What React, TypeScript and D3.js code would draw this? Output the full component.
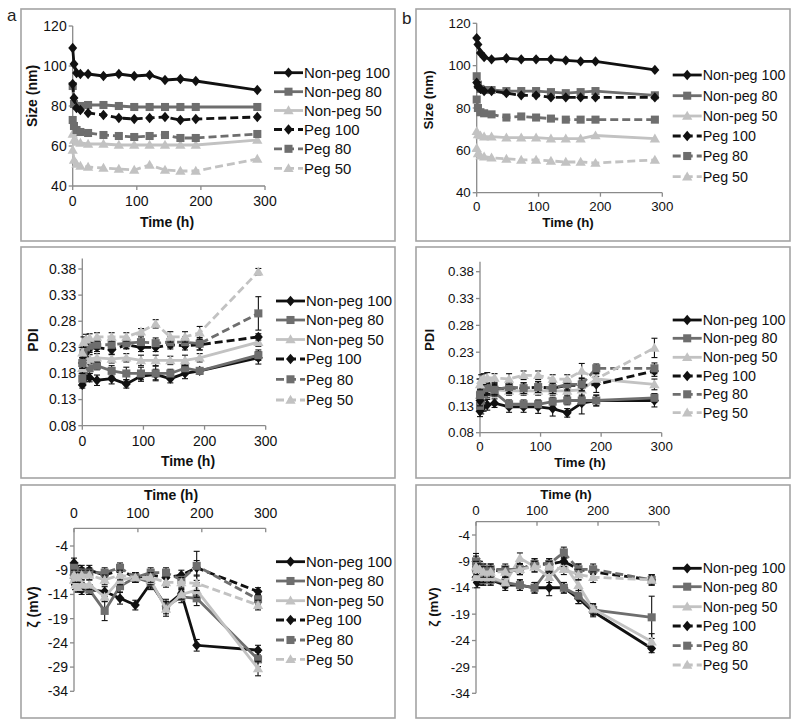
import React from "react";
import * as d3 from "d3";

const TIMES = [0, 2, 6, 12, 24, 48, 72, 96, 120, 144, 168, 192, 288];
const SERIES = ["Non-peg 100", "Non-peg 80", "Non-peg 50", "Peg 100", "Peg 80", "Peg 50"];
const X_TICKS = [0, 100, 200, 300];
const SIZE_TICKS = [40, 60, 80, 100, 120];
const PDI_TICKS = [0.08, 0.13, 0.18, 0.23, 0.28, 0.33, 0.38];
const ZETA_TICKS = [-4, -9, -14, -19, -24, -29, -34];

// Size (nm), panel a
const sizeA_NP100 = [109, 101, 96.5, 96, 96, 95, 96, 95, 95.5, 93, 93.5, 92.5, 88];
const sizeA_NP80 = [90, 81, 80, 80, 80.5, 80.5, 80, 79.5, 79.5, 79.5, 79.5, 79.5, 79.5];
const sizeA_NP50 = [66, 63, 62, 61.5, 61, 61, 60.5, 60.5, 60.5, 60.5, 60.5, 60.5, 63];
const sizeA_P100 = [91, 84, 79, 78, 76.5, 75.5, 74, 73.5, 74, 74.5, 73, 73.5, 74.5];
const sizeA_P80 = [73, 70, 68, 67, 66.5, 65.5, 65, 64.5, 65, 65.5, 64, 64, 66];
const sizeA_P50 = [58, 53, 51, 50, 49.5, 49, 48.5, 48, 50.5, 48, 47.5, 47.5, 53.5];

// Size (nm), panel b
const sizeB_NP100 = [113, 110, 106, 104, 103, 103.5, 103, 103, 103, 102.5, 102, 102, 98];
const sizeB_NP80 = [95, 91, 89, 88.5, 88.5, 88, 88, 88, 87.5, 87, 87.5, 88, 86];
const sizeB_NP50 = [69, 67.5, 67, 66.5, 66.5, 66, 66, 66, 65.5, 65.5, 65.5, 67, 65.5];
const sizeB_P100 = [92, 90, 89, 88, 88, 87, 86, 86, 85, 85, 85, 85, 85];
const sizeB_P80 = [84, 80, 78, 77.5, 77, 75.5, 76, 75.5, 75, 74.5, 74.5, 74.5, 74.5];
const sizeB_P50 = [61, 58.5, 57.5, 57, 56.5, 56, 55.5, 55.5, 55, 54.5, 54.5, 54, 55.5];

// PDI, panel a
const pdiA_NP100 = [0.158, 0.17, 0.175, 0.172, 0.167, 0.17, 0.16, 0.175, 0.178, 0.17, 0.18, 0.185, 0.21];
const pdiA_NP80 = [0.17, 0.185, 0.19, 0.19, 0.195, 0.185, 0.18, 0.18, 0.18, 0.18, 0.19, 0.185, 0.215];
const pdiA_NP50 = [0.19, 0.2, 0.205, 0.208, 0.21, 0.208, 0.21, 0.205, 0.205, 0.205, 0.205, 0.21, 0.24];
const pdiA_P100 = [0.2, 0.215, 0.22, 0.228, 0.23, 0.225, 0.235, 0.23, 0.23, 0.235, 0.233, 0.235, 0.25];
const pdiA_P80 = [0.2, 0.22, 0.23, 0.233, 0.235, 0.235, 0.238, 0.24, 0.238, 0.24, 0.24, 0.237, 0.295];
const pdiA_P50 = [0.22, 0.24, 0.245, 0.248, 0.25, 0.25, 0.25, 0.26, 0.275, 0.25, 0.25, 0.258, 0.375];
const pdiA_NP100_err = [0.006, 0.008, 0.01, 0.008, 0.01, 0.01, 0.008, 0.01, 0.01, 0.008, 0.01, 0.006, 0.012];
const pdiA_NP80_err = [0.01, 0.01, 0.01, 0.01, 0.008, 0.01, 0.012, 0.012, 0.014, 0.008, 0.008, 0.006, 0.01];
const pdiA_NP50_err = [0.01, 0.008, 0.008, 0.008, 0.008, 0.008, 0.008, 0.01, 0.01, 0.008, 0.01, 0.008, 0.008];
const pdiA_P100_err = [0.01, 0.01, 0.008, 0.008, 0.008, 0.008, 0.008, 0.008, 0.008, 0.008, 0.008, 0.01, 0.006];
const pdiA_P80_err = [0.01, 0.01, 0.01, 0.01, 0.008, 0.01, 0.01, 0.01, 0.01, 0.01, 0.01, 0.012, 0.032];
const pdiA_P50_err = [0.01, 0.01, 0.01, 0.008, 0.008, 0.008, 0.008, 0.006, 0.008, 0.01, 0.01, 0.012, 0.006];

// PDI, panel b
const pdiB_NP100 = [0.12, 0.125, 0.13, 0.132, 0.135, 0.128, 0.128, 0.128, 0.125, 0.117, 0.135, 0.14, 0.14];
const pdiB_NP80 = [0.13, 0.14, 0.15, 0.155, 0.155, 0.133, 0.133, 0.133, 0.138, 0.14, 0.14, 0.14, 0.145];
const pdiB_NP50 = [0.15, 0.165, 0.16, 0.16, 0.16, 0.158, 0.158, 0.158, 0.158, 0.158, 0.16, 0.18, 0.17];
const pdiB_P100 = [0.14, 0.155, 0.16, 0.162, 0.162, 0.163, 0.163, 0.165, 0.163, 0.168, 0.168, 0.17, 0.195];
const pdiB_P80 = [0.15, 0.16, 0.165, 0.163, 0.16, 0.165, 0.163, 0.165, 0.163, 0.17, 0.17, 0.2, 0.2];
const pdiB_P50 = [0.17, 0.178, 0.18, 0.182, 0.182, 0.18, 0.187, 0.187, 0.18, 0.18, 0.195, 0.18, 0.238];
const pdiB_NP100_err = [0.01, 0.01, 0.01, 0.01, 0.008, 0.01, 0.01, 0.012, 0.014, 0.008, 0.02, 0.01, 0.012];
const pdiB_NP80_err = [0.01, 0.01, 0.01, 0.01, 0.008, 0.008, 0.008, 0.008, 0.008, 0.008, 0.008, 0.01, 0.008];
const pdiB_NP50_err = [0.01, 0.01, 0.01, 0.01, 0.008, 0.008, 0.008, 0.008, 0.008, 0.008, 0.01, 0.01, 0.01];
const pdiB_P100_err = [0.01, 0.01, 0.01, 0.01, 0.01, 0.01, 0.01, 0.01, 0.01, 0.01, 0.01, 0.015, 0.01];
const pdiB_P80_err = [0.01, 0.01, 0.01, 0.01, 0.01, 0.01, 0.01, 0.01, 0.01, 0.01, 0.012, 0.008, 0.01];
const pdiB_P50_err = [0.01, 0.01, 0.01, 0.01, 0.008, 0.01, 0.008, 0.008, 0.008, 0.008, 0.014, 0.01, 0.018];

// Zeta potential (mV), panel a
const zetaA_NP100 = [-10, -12, -12.5, -13, -13, -13.4, -14.8, -16.2, -11.7, -16.4, -13.8, -24.5, -25.5];
const zetaA_NP80 = [-10, -11, -12, -12.5, -13, -17.4, -12.3, -10.5, -11.5, -16.5, -14.5, -14.8, -27.4];
const zetaA_NP50 = [-11, -12, -12.5, -12, -12, -14.5, -11, -10.5, -11, -17, -14, -13.1, -29.3];
const zetaA_P100 = [-7.5, -8.5, -9, -9, -9, -10, -9, -10.5, -10, -10.5, -10, -8.5, -13.4];
const zetaA_P80 = [-8.5, -9, -9.5, -9.5, -9.5, -9.5, -8.5, -10.5, -9.5, -9.5, -11, -8.1, -15];
const zetaA_P50 = [-10, -10.5, -10.5, -10, -10, -11, -10, -10.5, -10.5, -11.5, -11.5, -11.7, -16.2];
const zetaA_NP100_err = [1, 1, 1, 1, 1, 1, 1.2, 1, 1, 1, 1, 1.2, 1];
const zetaA_NP80_err = [1, 1, 1, 1, 1, 2, 1.2, 1, 1.5, 1.5, 1.2, 1.5, 1.5];
const zetaA_NP50_err = [1, 1, 1, 1, 1, 1, 1, 1, 1, 1.5, 1, 1.5, 1.5];
const zetaA_P100_err = [1, 1, 1, 1, 1, 1, 1, 1, 1, 1, 1, 1.5, 0.8];
const zetaA_P80_err = [1, 1, 1, 1, 1, 1, 1, 1, 1, 1, 1, 3, 1];
const zetaA_P50_err = [1, 1, 1, 1, 1, 1, 1, 1, 1, 1, 1, 1.5, 1];

// Zeta potential (mV), panel b
const zetaB_NP100 = [-12, -13, -12.5, -12.5, -12.5, -13.5, -13.5, -14, -14, -14, -16, -18.5, -25.5];
const zetaB_NP80 = [-10.5, -11, -12, -12.5, -12.5, -13, -13.5, -14, -10.3, -14, -15.5, -18.2, -19.6];
const zetaB_NP50 = [-12, -11.5, -12, -12, -12, -13, -8.4, -10, -12, -9.5, -13.5, -18, -24.2];
const zetaB_P100 = [-9, -9.5, -10, -10.5, -10.5, -11, -10.5, -9.5, -9.5, -9, -10.5, -11, -12.5];
const zetaB_P80 = [-9, -9.5, -10, -10.5, -10.5, -10.5, -10.5, -9.5, -9.5, -7.3, -10.5, -10.5, -12.5];
const zetaB_P50 = [-10, -10.5, -10.5, -11, -11, -11, -10.5, -10, -10, -10.5, -11.5, -12, -12.5];
const zetaB_NP100_err = [1, 1, 1, 1, 1, 1, 1, 1, 1.5, 1, 1, 1, 0.8];
const zetaB_NP80_err = [1, 1, 1, 1, 1, 1, 1, 1, 1, 1, 1.5, 1, 4];
const zetaB_NP50_err = [1, 1, 1, 1, 1, 1, 1, 1, 1, 1, 1, 1, 1.5];
const zetaB_P100_err = [1.5, 1, 1, 1, 1, 1, 1, 1, 1, 1, 1, 1, 0.8];
const zetaB_P80_err = [1, 1, 1, 1, 1, 1, 1, 1, 1, 1, 1, 1, 1];
const zetaB_P50_err = [1, 1, 1, 1, 1, 1, 1, 1, 1, 1, 1, 1, 1];

const COLORS = ["#111111", "#6e6e6e", "#c2c2c2", "#111111", "#6e6e6e", "#c2c2c2"];
const DASHED = [false, false, false, true, true, true];
const MARKERS = ["diamond", "square", "triangle", "diamond", "square", "triangle"];
const FONT = "'Liberation Sans', Arial, sans-serif";

function markerPath(kind: string, s = 1.12) {
  if (kind === "diamond") return `M0,${-4.6 * s}L${4 * s},0L0,${4.6 * s}L${-4 * s},0Z`;
  if (kind === "square") return `M${-3.6 * s},${-3.6 * s}h${7.2 * s}v${7.2 * s}h${-7.2 * s}Z`;
  return `M0,${-4.6 * s}L${4.6 * s},${3.4 * s}L${-4.6 * s},${3.4 * s}Z`;
}

type PanelCfg = {
  label?: string;
  labelPos?: [number, number];
  box: [number, number, number, number];
  xPx: [number, number];
  yDomain: [number, number];
  yPx: [number, number];
  yAxisTopPx: number;
  xAxisAtTop: boolean;
  xAxisPx: number;
  xTickLabelY: number;
  xTitle: [number, number];
  yTitle: string;
  yTitlePos: [number, number];
  yTicks: number[];
  fmt: (v: number) => string;
  legendX: number;
  legendYs: number[];
  fs: number;
  lfs: number;
  data: number[][];
  errs?: number[][];
};

function Panel({ c }: { c: PanelCfg }) {
  const x = d3.scaleLinear().domain([0, 300]).range(c.xPx);
  const y = d3.scaleLinear().domain(c.yDomain).range(c.yPx);
  const line = d3
    .line<number>()
    .x((_, i) => x(TIMES[i]))
    .y((v) => y(v));
  const axisCol = "#8a8a8a";
  const yTop = c.yAxisTopPx;
  const yBottom = c.xAxisAtTop ? y(c.yDomain[0]) : c.xAxisPx;
  return (
    <g fontFamily={FONT}>
      <rect
        x={c.box[0]}
        y={c.box[1]}
        width={c.box[2] - c.box[0]}
        height={c.box[3] - c.box[1]}
        fill="#fff"
        stroke="#a4a4a4"
        strokeWidth={1.6}
      />
      {c.label && (
        <text x={c.labelPos![0]} y={c.labelPos![1]} fontSize={17} fill="#222">
          {c.label}
        </text>
      )}
      <line x1={c.xPx[0]} x2={c.xPx[0]} y1={yTop} y2={yBottom} stroke={axisCol} strokeWidth={1.3} />
      {c.yTicks.map((t) => (
        <g key={t}>
          <line x1={c.xPx[0] - 4} x2={c.xPx[0]} y1={y(t)} y2={y(t)} stroke={axisCol} strokeWidth={1.3} />
          <text x={c.xPx[0] - 6} y={y(t)} dy="0.35em" textAnchor="end" fontSize={c.fs} fill="#111">
            {c.fmt(t)}
          </text>
        </g>
      ))}
      <line x1={c.xPx[0]} x2={c.xPx[1]} y1={c.xAxisPx} y2={c.xAxisPx} stroke={axisCol} strokeWidth={1.3} />
      {X_TICKS.map((t) => (
        <g key={t}>
          <line x1={x(t)} x2={x(t)} y1={c.xAxisPx} y2={c.xAxisPx + 4} stroke={axisCol} strokeWidth={1.3} />
          <text x={x(t)} y={c.xTickLabelY} dy="0.35em" textAnchor="middle" fontSize={c.fs} fill="#111">
            {t}
          </text>
        </g>
      ))}
      <text x={c.xTitle[0]} y={c.xTitle[1]} dy="0.35em" textAnchor="middle" fontSize={c.fs} fontWeight="bold" fill="#111">
        Time (h)
      </text>
      <text
        transform={`translate(${c.yTitlePos[0]},${c.yTitlePos[1]}) rotate(-90)`}
        dy="0.35em"
        textAnchor="middle"
        fontSize={c.fs}
        fontWeight="bold"
        fill="#111"
      >
        {c.yTitle}
      </text>
      {c.data.map((vals, si) => (
        <g key={si}>
          <path
            d={line(vals) || ""}
            fill="none"
            stroke={COLORS[si]}
            strokeWidth={2.8}
            strokeDasharray={DASHED[si] ? "8,4" : undefined}
          />
          {c.errs &&
            vals.map((v, i) => {
              const e = c.errs![si][i];
              const px = x(TIMES[i]);
              return (
                <g key={i} stroke="#111" strokeWidth={1.1}>
                  <line x1={px} x2={px} y1={y(v - e)} y2={y(v + e)} />
                  <line x1={px - 3} x2={px + 3} y1={y(v - e)} y2={y(v - e)} />
                  <line x1={px - 3} x2={px + 3} y1={y(v + e)} y2={y(v + e)} />
                </g>
              );
            })}
          {vals.map((v, i) => (
            <path
              key={i}
              transform={`translate(${x(TIMES[i])},${y(v)})`}
              d={markerPath(MARKERS[si])}
              fill={COLORS[si]}
            />
          ))}
        </g>
      ))}
      {SERIES.map((name, si) => (
        <g key={name} transform={`translate(${c.legendX},${c.legendYs[si]})`}>
          <line
            x1={0}
            x2={29}
            y1={0}
            y2={0}
            stroke={COLORS[si]}
            strokeWidth={2.8}
            strokeDasharray={DASHED[si] ? "8,4" : undefined}
          />
          <path transform="translate(14.5,0)" d={markerPath(MARKERS[si])} fill={COLORS[si]} />
          <text x={30} y={0} dy="0.35em" fontSize={c.lfs} fill="#111">
            {name}
          </text>
        </g>
      ))}
    </g>
  );
}

const fmtInt = (v: number) => String(v);
const fmtPdi = d3.format(".2f");

export default function App() {
  const panels: PanelCfg[] = [
    {
      label: "a",
      labelPos: [7, 21],
      box: [21, 9, 395, 241],
      xPx: [72.7, 265],
      yDomain: [40, 120],
      yPx: [186, 26],
      yAxisTopPx: 26,
      xAxisAtTop: false,
      xAxisPx: 186,
      xTickLabelY: 201.5,
      xTitle: [167, 222],
      yTitle: "Size (nm)",
      yTitlePos: [32, 96],
      yTicks: SIZE_TICKS,
      fmt: fmtInt,
      legendX: 274,
      legendYs: [72.7, 91.7, 110.5, 129.5, 148.8, 168.3],
      fs: 14,
      lfs: 14.9,
      data: [sizeA_NP100, sizeA_NP80, sizeA_NP50, sizeA_P100, sizeA_P80, sizeA_P50],
    },
    {
      label: "b",
      labelPos: [402, 24],
      box: [416, 9, 790, 241],
      xPx: [476.7, 662.3],
      yDomain: [40, 120],
      yPx: [192.7, 23.3],
      yAxisTopPx: 23.3,
      xAxisAtTop: false,
      xAxisPx: 192.7,
      xTickLabelY: 206,
      xTitle: [568, 222.7],
      yTitle: "Size (nm)",
      yTitlePos: [428, 100],
      yTicks: SIZE_TICKS,
      fmt: fmtInt,
      legendX: 672.7,
      legendYs: [75, 95.7, 116, 136, 156, 176.7],
      fs: 13.3,
      lfs: 14.3,
      data: [sizeB_NP100, sizeB_NP80, sizeB_NP50, sizeB_P100, sizeB_P80, sizeB_P50],
    },
    {
      box: [21, 247, 395, 478],
      xPx: [82.3, 265.7],
      yDomain: [0.08, 0.38],
      yPx: [425.7, 269],
      yAxisTopPx: 258.5,
      xAxisAtTop: false,
      xAxisPx: 425.7,
      xTickLabelY: 441,
      xTitle: [188, 460.7],
      yTitle: "PDI",
      yTitlePos: [33, 340],
      yTicks: PDI_TICKS,
      fmt: fmtPdi,
      legendX: 276,
      legendYs: [301, 320, 339.5, 359, 379.3, 400],
      fs: 14,
      lfs: 14.9,
      data: [pdiA_NP100, pdiA_NP80, pdiA_NP50, pdiA_P100, pdiA_P80, pdiA_P50],
      errs: [pdiA_NP100_err, pdiA_NP80_err, pdiA_NP50_err, pdiA_P100_err, pdiA_P80_err, pdiA_P50_err],
    },
    {
      box: [416, 247, 790, 478],
      xPx: [480, 661.7],
      yDomain: [0.08, 0.38],
      yPx: [432.7, 271.7],
      yAxisTopPx: 261.7,
      xAxisAtTop: false,
      xAxisPx: 432.7,
      xTickLabelY: 446.5,
      xTitle: [580, 462.7],
      yTitle: "PDI",
      yTitlePos: [429, 340],
      yTicks: PDI_TICKS,
      fmt: fmtPdi,
      legendX: 672.7,
      legendYs: [320, 338.3, 357.3, 376, 394.3, 412.7],
      fs: 13.3,
      lfs: 14.3,
      data: [pdiB_NP100, pdiB_NP80, pdiB_NP50, pdiB_P100, pdiB_P80, pdiB_P50],
      errs: [pdiB_NP100_err, pdiB_NP80_err, pdiB_NP50_err, pdiB_P100_err, pdiB_P80_err, pdiB_P50_err],
    },
    {
      box: [21, 485, 395, 718],
      xPx: [74, 265.7],
      yDomain: [-34, -4],
      yPx: [691.3, 546],
      yAxisTopPx: 528.3,
      xAxisAtTop: true,
      xAxisPx: 528.3,
      xTickLabelY: 513.3,
      xTitle: [171, 495],
      yTitle: "ζ (mV)",
      yTitlePos: [33, 607],
      yTicks: ZETA_TICKS,
      fmt: fmtInt,
      legendX: 276,
      legendYs: [561.7, 581, 600.7, 620, 640, 659.3],
      fs: 14,
      lfs: 14.9,
      data: [zetaA_NP100, zetaA_NP80, zetaA_NP50, zetaA_P100, zetaA_P80, zetaA_P50],
      errs: [zetaA_NP100_err, zetaA_NP80_err, zetaA_NP50_err, zetaA_P100_err, zetaA_P80_err, zetaA_P50_err],
    },
    {
      box: [416, 485, 790, 718],
      xPx: [476, 659],
      yDomain: [-34, -4],
      yPx: [693.3, 535],
      yAxisTopPx: 521.7,
      xAxisAtTop: true,
      xAxisPx: 521.7,
      xTickLabelY: 510.7,
      xTitle: [566, 494],
      yTitle: "ζ (mV)",
      yTitlePos: [433, 607],
      yTicks: ZETA_TICKS,
      fmt: fmtInt,
      legendX: 672.7,
      legendYs: [568.3, 586.7, 606.7, 626, 645.7, 665],
      fs: 13.3,
      lfs: 14.3,
      data: [zetaB_NP100, zetaB_NP80, zetaB_NP50, zetaB_P100, zetaB_P80, zetaB_P50],
      errs: [zetaB_NP100_err, zetaB_NP80_err, zetaB_NP50_err, zetaB_P100_err, zetaB_P80_err, zetaB_P50_err],
    },
  ];
  return (
    <svg
      width={800}
      height={726}
      style={{ position: "absolute", left: 0, top: 0, background: "#fff" }}
    >
      <rect width={800} height={726} fill="#fff" />
      {panels.map((p, i) => (
        <Panel key={i} c={p} />
      ))}
    </svg>
  );
}
